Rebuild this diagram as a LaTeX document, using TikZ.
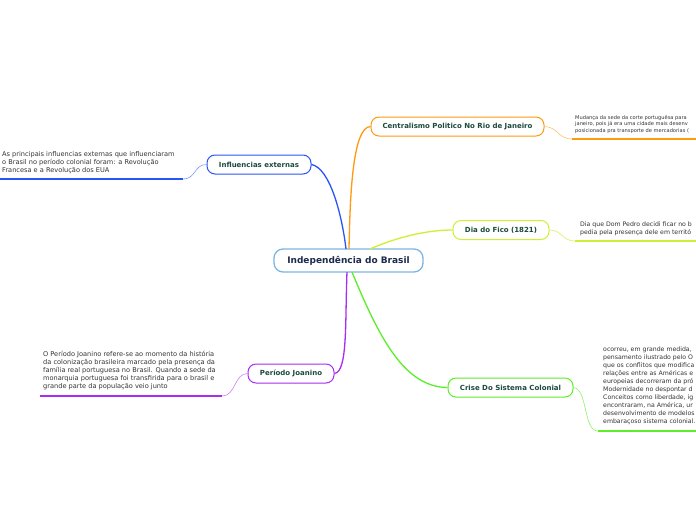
\documentclass[tikz,border=0pt]{standalone}
\usepackage{fontspec}
\setmainfont{DejaVu Sans}
\definecolor{cblue}{HTML}{2A55F5}
\definecolor{corange}{HTML}{FF9A10}
\definecolor{cyellow}{HTML}{CDF035}
\definecolor{cpurple}{HTML}{A92CF5}
\definecolor{cgreen}{HTML}{5CEE2A}
\definecolor{ccentral}{HTML}{7DB5E2}
\definecolor{ctopic}{HTML}{1B4A3C}
\definecolor{cnavy}{HTML}{1C2A4E}
\definecolor{ctext}{HTML}{333333}
\tikzset{
  topic/.style={draw, rounded corners=8pt, line width=1pt, fill=white, text=ctopic,
    font=\fontsize{7}{8}\selectfont\bfseries, minimum height=19pt, inner xsep=6pt},
  central/.style={draw=ccentral, rounded corners=9pt, line width=1.3pt, fill=white, text=cnavy,
    font=\fontsize{9}{10}\selectfont\bfseries, minimum height=23pt, minimum width=149pt},
  txt/.style={anchor=north west, inner sep=0pt, align=left, text=ctext,
    font=\fontsize{6.6}{8}\selectfont},
  edgetxt/.style={anchor=north west, inner sep=0pt, align=left, text=ctext,
    font=\fontsize{6.2}{8}\selectfont},
  smalltxt/.style={anchor=north west, inner sep=0pt, align=left, text=ctext,
    font=\fontsize{5.1}{6.2}\selectfont},
  branch/.style={line width=1.3pt},
  twig/.style={line width=0.6pt},
  uline/.style={line width=1.4pt}
}
\begin{document}
\begin{tikzpicture}[x=1pt,y=-1pt]
\useasboundingbox (0,0) rectangle (696,520);
\fill[white] (0,0) rectangle (696,520);

% topics
\node[central] (root) at (348.5,260.5) {Independência do Brasil};
\node[topic, draw=corange, minimum width=173pt] (cent) at (457.5,126.5) {Centralismo Politico No Rio de Janeiro};
\node[topic, draw=cyellow, minimum width=96pt] (fico) at (501,230) {Dia do Fico (1821)};
\node[topic, draw=cblue, minimum width=104pt] (infl) at (259,164.5) {Influencias externas};
\node[topic, draw=cpurple, minimum width=86pt] (joan) at (291,373.5) {Período Joanino};
\node[topic, draw=cgreen, minimum width=125pt] (crise) at (510.5,387.5) {Crise Do Sistema Colonial};

% main branches
\draw[branch, cblue] (346,249) .. controls (342,215) and (330,168) .. (infl.east);
\draw[branch, corange] (349,249) .. controls (350,200) and (352,127) .. (cent.west);
\draw[branch, cyellow] (370,249) .. controls (395,238) and (425,230) .. (fico.west);
\draw[branch, cpurple] (347,272) .. controls (345,320) and (348,372) .. (joan.east);
\draw[branch, cgreen] (352,272) .. controls (380,340) and (405,387) .. (crise.west);

% texts
\node[txt] (tinfl) at (2,151.5) {As principais influencias externas que influenciaram\\o Brasil no período colonial foram: a Revolução\\Francesa e a Revolução dos EUA};
\node[smalltxt] (tcent) at (575,115.5) {Mudança da sede da corte portuguêsa para\\janeiro, pois já era uma cidade mais desenv\\posicionada pra transporte de mercadorias (};
\node[edgetxt] (tfico) at (580,221.5) {Dia que Dom Pedro decidi ficar no b\\pedia pela presença dele em territó};
\node[txt] (tjoan) at (43,351.5) {O Período Joanino refere-se ao momento da história\\da colonização brasileira marcado pela presença da\\família real portuguesa no Brasil. Quando  a sede da\\monarquia portuguesa foi transfirida para o brasil e\\grande parte da população veio junto};
\node[edgetxt] (tcrise) at (603,346.5) {ocorreu, em grande medida,\\pensamento ilustrado pelo O\\que os conflitos que modifica\\relações entre as Américas e\\europeias decorreram da pró\\Modernidade no despontar d\\Conceitos como liberdade, ig\\encontraram, na América, ur\\desenvolvimento de modelos\\embaraçoso sistema colonial.};

% underlines
\coordinate (ui1) at (0,179);   \coordinate (ui2) at (183,179);
\coordinate (uc1) at (572,139); \coordinate (uc2) at (696,139);
\coordinate (uf1) at (575,241); \coordinate (uf2) at (696,241);
\coordinate (uj1) at (40,396);  \coordinate (uj2) at (222,396);
\coordinate (ur1) at (598,431); \coordinate (ur2) at (696,431);
\draw[uline, cblue] (ui1) -- (ui2);
\draw[uline, corange] (uc1) -- (uc2);
\draw[uline, cyellow] (uf1) -- (uf2);
\draw[uline, cpurple] (uj1) -- (uj2);
\draw[uline, cgreen] (ur1) -- (ur2);

% twigs
\draw[twig, cblue!60] (infl.west) .. controls (194,164.5) and (196,179) .. (ui2);
\draw[twig, corange!60] (cent.east) .. controls (558,127) and (558,139) .. (uc1);
\draw[twig, cyellow!80] (fico.east) .. controls (562,230) and (562,241) .. (uf1);
\draw[twig, cpurple!60] (joan.west) .. controls (234,373.5) and (236,396) .. (uj2);
\draw[twig, cgreen!70] (crise.east) .. controls (588,389) and (583,431) .. (ur1);
\end{tikzpicture}
\end{document}
